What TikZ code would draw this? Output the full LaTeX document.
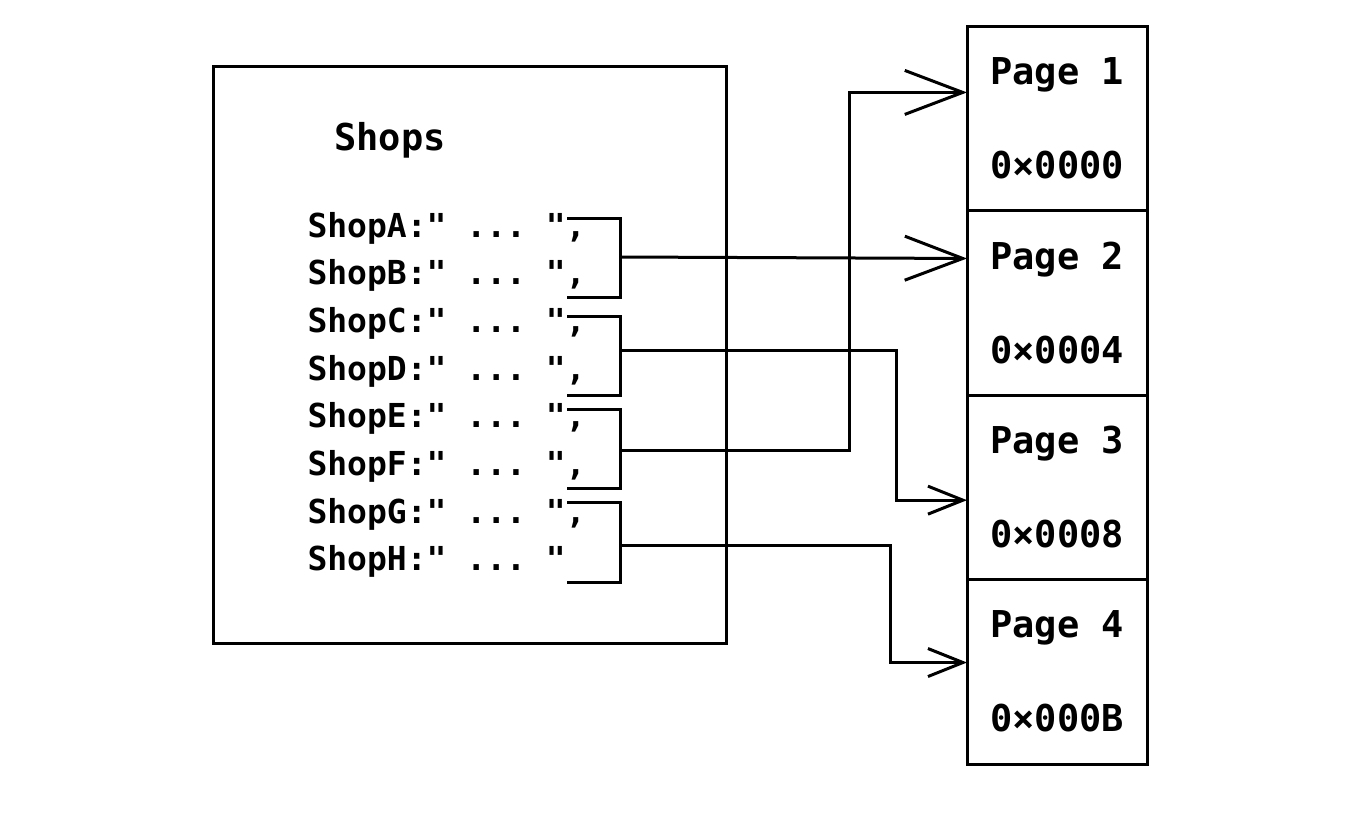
\documentclass[tikz,border=0pt]{standalone}
\usepackage{fontspec}
\setmonofont{DejaVu Sans Mono}
\usetikzlibrary{arrows.meta, positioning, calc}

\begin{document}
\begin{tikzpicture}[
    x=1pt, y=-1pt,
    line width=3pt,
    box/.style = {draw, rectangle, outer sep=0pt, inner sep=0pt},
    page/.style = {box, minimum width=180pt, minimum height=184.5pt, align=center,
                   font=\ttfamily\bfseries\fontsize{37}{40}\selectfont},
    entry/.style = {anchor=base west, inner sep=0pt, font=\ttfamily\bfseries\fontsize{33}{38}\selectfont},
    bigarrow/.style = {-{Straight Barb[length=58pt, width=44pt]}},
    smallarrow/.style = {-{Straight Barb[length=35pt, width=28pt]}}
  ]
  \useasboundingbox (0,0) rectangle (1350,822);
  % Shops
  \node[box, minimum width=513pt, minimum height=577pt] (shops) at (469.5,354.5) {};
  \node[entry, anchor=base, font=\ttfamily\bfseries\fontsize{37}{40}\selectfont] (title) at (390,150) {Shops};
  \foreach \s [count=\i from 0] in {A,...,H}
    \node[entry] (shop\s) at (306,237+47.7*\i) {Shop\s:" ... "\ifnum\i<7,\fi};
  % Pages
  \node[page] (page1) at (1057,118.25) {Page 1\\[54pt]0×0000};
  \node[page, below=0pt of page1] (page2) {Page 2\\[54pt]0×0004};
  \node[page, below=0pt of page2] (page3) {Page 3\\[54pt]0×0008};
  \node[page, below=0pt of page3] (page4) {Page 4\\[54pt]0×000B};
  % Brackets
  \coordinate (tA) at (567,218); \coordinate (jA) at (620,257); \coordinate (bA) at (567,297);
  \coordinate (tC) at (567,316); \coordinate (jC) at (620,350); \coordinate (bC) at (567,395);
  \coordinate (tE) at (567,409); \coordinate (jE) at (620,450); \coordinate (bE) at (567,488);
  \coordinate (tG) at (567,502); \coordinate (jG) at (620,545); \coordinate (bG) at (567,582);
  \foreach \p in {A,C,E,G}
    \draw (t\p) -| (j\p) |- (b\p);
  % Targets
  \coordinate (in1) at ($(page1.north west)!0.36!(page1.south west)$);
  \coordinate (in2) at ($(page2.north west)!0.26!(page2.south west)$);
  \coordinate (in3) at ($(page3.north west)!0.57!(page3.south west)$);
  \coordinate (in4) at ($(page4.north west)!0.45!(page4.south west)$);
  % Arrows
  \draw[bigarrow] (jA) -- (in2);
  \draw[smallarrow] (jC) -- ++(276,0) |- (in3);
  \draw[bigarrow] (jE) -- ++(229,0) |- (in1);
  \draw[smallarrow] (jG) -- ++(270,0) |- (in4);
\end{tikzpicture}
\end{document}
